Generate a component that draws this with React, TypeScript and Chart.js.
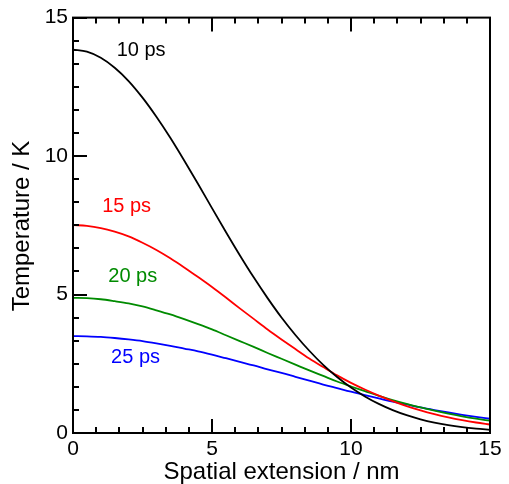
import React, { useEffect, useRef } from "react";
import { Chart, registerables } from "chart.js";

Chart.register(...registerables);

// Spatial extension (nm)
const xValues = [0, 0.5, 1, 1.5, 2, 2.5, 3, 3.5, 4, 4.5, 5, 5.5, 6, 6.5, 7, 7.5, 8, 8.5, 9, 9.5, 10, 10.5, 11, 11.5, 12, 12.5, 13, 13.5, 14, 14.5, 15];
// Temperature (K)
const temp10ps = [13.84, 13.77, 13.55, 13.19, 12.71, 12.11, 11.42, 10.66, 9.84, 8.99, 8.12, 7.26, 6.42, 5.62, 4.87, 4.17, 3.54, 2.97, 2.46, 2.02, 1.64, 1.32, 1.05, 0.825, 0.642, 0.495, 0.377, 0.284, 0.212, 0.157, 0.114];
const temp15ps = [7.51, 7.48, 7.4, 7.27, 7.1, 6.87, 6.61, 6.31, 5.98, 5.63, 5.27, 4.89, 4.5, 4.12, 3.74, 3.38, 3.03, 2.69, 2.38, 2.08, 1.81, 1.57, 1.35, 1.15, 0.971, 0.816, 0.681, 0.564, 0.464, 0.379, 0.307];
const temp20ps = [4.88, 4.87, 4.83, 4.76, 4.68, 4.57, 4.43, 4.28, 4.11, 3.93, 3.74, 3.53, 3.32, 3.11, 2.89, 2.68, 2.47, 2.26, 2.06, 1.86, 1.68, 1.51, 1.34, 1.19, 1.05, 0.923, 0.805, 0.699, 0.604, 0.519, 0.443];
const temp25ps = [3.5, 3.49, 3.47, 3.43, 3.38, 3.32, 3.24, 3.15, 3.05, 2.95, 2.83, 2.7, 2.57, 2.44, 2.3, 2.17, 2.03, 1.89, 1.75, 1.62, 1.49, 1.37, 1.25, 1.13, 1.03, 0.924, 0.829, 0.74, 0.658, 0.583, 0.514];

const seriesNames = ["10 ps", "15 ps", "20 ps", "25 ps"];
const seriesColors = ["#000000", "#ff0000", "#008b00", "#0000ff"];
const seriesValues = [temp10ps, temp15ps, temp20ps, temp25ps];

// Annotation anchors in data units
const labelX = [2.45, 1.93, 2.15, 2.25];
const labelY = [13.82, 8.17, 5.65, 2.73];

const xTicks = [0, 5, 10, 15];
const yTicks = [0, 5, 10, 15];
const minorDivisions = 6;

const xTitle = "Spatial extension / nm";
const yTitle = "Temperature / K";

const FONT = "'Liberation Sans', Arial, Helvetica, sans-serif";

const framePlugin = {
  id: "framePlugin",
  afterDraw(chart: any) {
    const { ctx, chartArea } = chart;
    const xs = chart.scales.x;
    const ys = chart.scales.y;
    const { left, right, top, bottom } = chartArea;
    ctx.save();
    ctx.strokeStyle = "#000";
    ctx.lineWidth = 2;
    ctx.lineCap = "butt";
    ctx.strokeRect(left, top, right - left, bottom - top);

    const major = 14;
    const minor = 6;
    const drawX = (v: number, len: number) => {
      const p = Math.round(xs.getPixelForValue(v));
      ctx.beginPath();
      ctx.moveTo(p, bottom);
      ctx.lineTo(p, bottom - len);
      ctx.moveTo(p, top);
      ctx.lineTo(p, top + len);
      ctx.stroke();
    };
    const drawY = (v: number, len: number) => {
      const p = Math.round(ys.getPixelForValue(v));
      ctx.beginPath();
      ctx.moveTo(left, p);
      ctx.lineTo(left + len, p);
      ctx.stroke();
    };
    for (let i = 0; i < xTicks.length; i++) {
      drawX(xTicks[i], major);
      if (i < xTicks.length - 1) {
        const step = (xTicks[i + 1] - xTicks[i]) / minorDivisions;
        for (let k = 1; k < minorDivisions; k++) drawX(xTicks[i] + k * step, minor);
      }
    }
    for (let i = 0; i < yTicks.length; i++) {
      drawY(yTicks[i], major);
      if (i < yTicks.length - 1) {
        const step = (yTicks[i + 1] - yTicks[i]) / minorDivisions;
        for (let k = 1; k < minorDivisions; k++) drawY(yTicks[i] + k * step, minor);
      }
    }

    // series annotations
    ctx.font = `20px ${FONT}`;
    ctx.textAlign = "center";
    ctx.textBaseline = "middle";
    for (let i = 0; i < seriesNames.length; i++) {
      ctx.fillStyle = seriesColors[i];
      ctx.fillText(seriesNames[i], xs.getPixelForValue(labelX[i]), ys.getPixelForValue(labelY[i]));
    }

    // y axis title
    ctx.fillStyle = "#000";
    ctx.font = `24px ${FONT}`;
    ctx.translate(22, 226);
    ctx.rotate(-Math.PI / 2);
    ctx.fillText(yTitle, 0, 0);
    ctx.restore();
  },
};

export default function App() {
  const canvasRef = useRef<HTMLCanvasElement | null>(null);

  useEffect(() => {
    const canvas = canvasRef.current;
    if (!canvas) return;
    const chart = new Chart(canvas, {
      type: "line",
      data: {
        datasets: seriesValues.map((vals, i) => ({
          label: seriesNames[i],
          data: xValues.map((x, j) => ({ x, y: vals[j] })),
          borderColor: seriesColors[i],
          backgroundColor: seriesColors[i],
          borderWidth: 1.8,
          pointRadius: 0,
          fill: false,
          cubicInterpolationMode: "monotone" as const,
        })),
      },
      options: {
        responsive: false,
        animation: false,
        devicePixelRatio: 1,
        layout: { padding: { left: 0, right: 19, top: 16, bottom: 0 } },
        plugins: {
          legend: { display: false },
          tooltip: { enabled: false },
          title: { display: false },
        },
        scales: {
          x: {
            type: "linear",
            min: 0,
            max: 15,
            grid: { display: false, drawTicks: false },
            border: { display: false },
            afterBuildTicks: (s: any) => {
              s.ticks = xTicks.map((v) => ({ value: v }));
            },
            afterFit: (s: any) => {
              s.height = 51;
            },
            ticks: {
              color: "#000",
              font: { size: 21, family: FONT },
              padding: 4,
              maxRotation: 0,
              autoSkip: false,
            },
            title: {
              display: true,
              text: xTitle,
              color: "#000",
              font: { size: 24, family: FONT, lineHeight: 1 },
              padding: { top: 0, bottom: 0 },
            },
          },
          y: {
            type: "linear",
            min: 0,
            max: 15,
            grid: { display: false, drawTicks: false },
            border: { display: false },
            afterBuildTicks: (s: any) => {
              s.ticks = yTicks.map((v) => ({ value: v }));
            },
            afterFit: (s: any) => {
              s.width = 73;
            },
            ticks: {
              color: "#000",
              font: { size: 21, family: FONT },
              padding: 5,
              autoSkip: false,
            },
          },
        },
      },
      plugins: [framePlugin],
    });
    return () => chart.destroy();
  }, []);

  return (
    <div style={{ position: "absolute", left: 0, top: 0, width: 509, height: 484, background: "#fff" }}>
      <canvas ref={canvasRef} width={509} height={484} style={{ display: "block" }} />
    </div>
  );
}
